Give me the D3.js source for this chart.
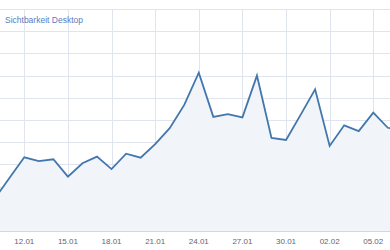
<!DOCTYPE html>
<html>
<head>
<meta charset="utf-8">
<script src="https://cdn.jsdelivr.net/npm/d3@7"></script>
<style>
body{margin:0;background:#fff;}
svg{display:block;font-family:"Liberation Sans",Arial,sans-serif;}
</style>
</head>
<body>
<svg width="390" height="250"></svg>
<script>
// daily values (Sichtbarkeit Desktop)
var days = ["10.01","11.01","12.01","13.01","14.01","15.01","16.01","17.01","18.01","19.01",
            "20.01","21.01","22.01","23.01","24.01","25.01","26.01","27.01","28.01","29.01",
            "30.01","31.01","01.02","02.02","03.02","04.02","05.02","06.02","07.02"];
var values = [14.9,24.1,33.2,31.5,32.3,24.5,30.5,33.5,27.9,34.8,
              33.0,39.1,46.3,56.8,71.3,51.4,52.6,51.2,70.0,41.9,
              41.0,52.3,63.8,38.3,47.6,45.0,53.3,46.5,45.5];
var tickDays = ["12.01","15.01","18.01","21.01","24.01","27.01","30.01","02.02","05.02"];
var yTicks = [0,10,20,30,40,50,60,70,80,90,100];

var svg = d3.select("svg"),
    wth = +svg.attr("width"),
    plotTop = 9, plotBottom = 231;

var parse = function(s){ return d3.utcParse("%d.%m.%Y")(s + ".2024"); };
var data = days.map(function(d,i){ return {date: parse(d), value: values[i]}; });

var dayMs = 864e5;
var x = d3.scaleUtc()
    .domain([+parse("12.01") - 1.671*dayMs, +parse("12.01") + 25.15*dayMs])
    .range([0, wth]);
var y = d3.scaleLinear().domain([0,100]).range([plotBottom, plotTop]);

// grid
svg.append("g").selectAll("line")
    .data(yTicks).enter().append("line")
    .attr("x1",0).attr("x2",wth)
    .attr("y1",function(d){return Math.round(y(d))+0.5;})
    .attr("y2",function(d){return Math.round(y(d))+0.5;})
    .attr("stroke",function(d){return d===0 ? "#cfd6e4" : "#dfe4ef";});
svg.append("g").selectAll("line")
    .data(tickDays).enter().append("line")
    .attr("x1",function(d){return Math.round(x(parse(d)))+0.5;})
    .attr("x2",function(d){return Math.round(x(parse(d)))+0.5;})
    .attr("y1",plotTop).attr("y2",plotBottom)
    .attr("stroke","#dfe4ef");

var area = d3.area()
    .x(function(d){return x(d.date);})
    .y0(plotBottom)
    .y1(function(d){return y(d.value);});
var line = d3.line()
    .x(function(d){return x(d.date);})
    .y(function(d){return y(d.value);});

svg.append("path").datum(data)
    .attr("d",area)
    .attr("fill","#f1f4f8");
svg.append("path").datum(data)
    .attr("d",line)
    .attr("fill","none")
    .attr("stroke","#4277ad")
    .attr("stroke-width",1.8)
    .attr("stroke-linejoin","miter");

// x labels
svg.append("g").selectAll("text")
    .data(tickDays).enter().append("text")
    .attr("x",function(d){return x(parse(d));})
    .attr("y",243.5)
    .attr("text-anchor","middle")
    .attr("font-size","8px")
    .attr("fill","#5f6670")
    .text(function(d){return d;});

svg.append("text")
    .attr("x",5).attr("y",23.3)
    .attr("font-size","8.5px")
    .attr("fill","#5b7bbf")
    .text("Sichtbarkeit Desktop");
</script>
</body>
</html>
